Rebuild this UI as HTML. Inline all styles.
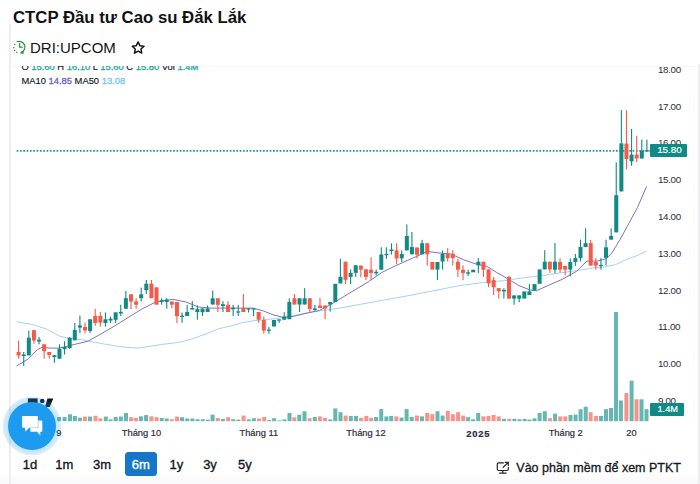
<!DOCTYPE html>
<html lang="vi"><head><meta charset="utf-8"><title>DRI chart</title>
<style>
*{margin:0;padding:0;box-sizing:border-box}
html,body{width:700px;height:484px;overflow:hidden;background:#fff;font-family:"Liberation Sans",Arial,sans-serif;color:#131722}
#lline{position:absolute;left:9px;top:24px;width:1.5px;height:460px;background:#eeedf1}
#rline{position:absolute;left:697.5px;top:64px;width:2.5px;height:420px;background:#efeff3}
#r2line{position:absolute;left:693px;top:66px;width:1px;height:360px;background:#fafafb}
#title{position:absolute;left:13px;top:9.9px;font-size:16.75px;line-height:16.75px;font-weight:bold;white-space:nowrap;color:#111}
#sym{position:absolute;left:30px;top:40.3px;font-size:15px;line-height:15px;white-space:nowrap;color:#131313}
#clock{position:absolute;left:8px;top:36px;width:24px;height:22px}
#star{position:absolute;left:126px;top:38px;width:24px;height:20px}
#chartclip{position:absolute;left:10px;top:66px;width:688px;height:380px;overflow:hidden}
.leg{position:absolute;left:11.4px;font-size:9.4px;line-height:10px;white-space:nowrap;color:#131722;-webkit-text-stroke:0.15px #131722}
.leg span{-webkit-text-stroke:0.35px currentColor}
.pl{position:absolute;left:657.9px;font-size:9.8px;letter-spacing:-0.3px;line-height:12px;color:#2a2e39;white-space:nowrap}
#svg{position:absolute;left:0;top:0}
.tl{position:absolute;top:428.3px;width:80px;text-align:center;font-size:9.3px;line-height:10px;color:#2a2e39;white-space:nowrap;-webkit-text-stroke:0.2px #2a2e39}
.tl.b{font-weight:bold;font-size:9.4px;letter-spacing:0.75px;top:429px}
.badge{position:absolute;background:#108a84;color:#fff;-webkit-text-stroke:0.2px #fff;font-size:10px;line-height:11px;border-radius:1px;text-align:center}
.rb{position:absolute;top:458px;width:40px;text-align:center;font-size:13px;line-height:13px;color:#131722;-webkit-text-stroke:0.35px currentColor}
#b6m{position:absolute;left:125px;top:452.3px;width:31.8px;height:23.8px;border-radius:3.5px;background:#1677c8}
#bottom{position:absolute;left:0;top:475px;width:700px;height:9px;background:linear-gradient(#fdfdfe,#f8f8fa)}
#ptkt{position:absolute;left:516.3px;top:461.5px;font-size:12.5px;line-height:13px;white-space:nowrap;color:#131722;-webkit-text-stroke:0.3px #131722}
#mon{position:absolute;left:494px;top:460px;width:16px;height:15px}
#chat{position:absolute;left:2.5px;top:397px;width:58px;height:58px}
</style></head><body>
<div id="bottom"></div><div id="lline"></div><div id="tline" style="position:absolute;left:10px;top:65.5px;width:688px;height:1px;background:#f6f6f8"></div><div id="rline"></div><div id="r2line"></div>
<div id="title">CTCP Đầu tư Cao su Đắk Lắk</div>
<svg id="clock" viewBox="8 36 24 22"><g fill="none" stroke="#26973d" stroke-width="1.25" stroke-linecap="round"><path d="M17.2 41.7 A5.7 5.7 0 1 1 21.2 52.4"/><path d="M19.6 43.6 V47.1 H22.4"/></g><g fill="#26973d"><circle cx="14.8" cy="44.5" r="0.75"/><circle cx="13.8" cy="47.7" r="0.75"/><circle cx="14.6" cy="50.4" r="0.75"/><circle cx="16.6" cy="52.2" r="0.75"/><path d="M23.8 50.2 L23.5 54.1 L19.7 53.2 Z"/></g></svg>
<div id="sym">DRI:UPCOM</div>
<svg id="star" viewBox="126 38 24 20"><path d="M138.10 41.90 L139.86 45.67 L144.00 46.18 L140.95 49.03 L141.74 53.12 L138.10 51.10 L134.46 53.12 L135.25 49.03 L132.20 46.18 L136.34 45.67 Z" fill="none" stroke="#111" stroke-width="1.45" stroke-linejoin="round"/></svg>

<div id="chartclip">
<div class="leg" style="top:-4.3px">O <span style="color:#2aa99b">15.60</span> H <span style="color:#2aa99b">16.10</span> L <span style="color:#2aa99b">15.60</span> C <span style="color:#2aa99b">15.80</span> Vol <span style="color:#2aa99b">1.4M</span></div>
<div class="leg" style="top:9.7px">MA10 <span style="color:#7466c0">14.85</span> MA50 <span style="color:#7cc6ee">13.08</span></div>
</div>

<svg id="svg" width="700" height="484" viewBox="0 0 700 484">
<rect x="57.1" y="417" width="4" height="4.2" fill="#66b6b2"/>
<rect x="62.6" y="417" width="4" height="4.2" fill="#66b6b2"/>
<rect x="68" y="414.3" width="4" height="6.9" fill="#66b6b2"/>
<rect x="72.9" y="416" width="4" height="5.2" fill="#66b6b2"/>
<rect x="77.9" y="417.7" width="4" height="3.5" fill="#66b6b2"/>
<rect x="82.9" y="416.6" width="4" height="4.6" fill="#f6938d"/>
<rect x="88" y="416.6" width="4" height="4.6" fill="#66b6b2"/>
<rect x="93.5" y="415.8" width="4" height="5.4" fill="#f6938d"/>
<rect x="98.3" y="418.3" width="4" height="2.9" fill="#f6938d"/>
<rect x="103.8" y="416.6" width="4" height="4.6" fill="#66b6b2"/>
<rect x="108.6" y="419.4" width="4" height="1.8" fill="#66b6b2"/>
<rect x="113.7" y="417" width="4" height="4.2" fill="#66b6b2"/>
<rect x="118.9" y="416.5" width="4" height="4.7" fill="#66b6b2"/>
<rect x="124" y="413" width="4" height="8.2" fill="#66b6b2"/>
<rect x="129.1" y="417.2" width="4" height="4" fill="#f6938d"/>
<rect x="134" y="418" width="4" height="3.2" fill="#f6938d"/>
<rect x="138.9" y="416.3" width="4" height="4.9" fill="#66b6b2"/>
<rect x="144.1" y="415.1" width="4" height="6.1" fill="#66b6b2"/>
<rect x="149.4" y="416.3" width="4" height="4.9" fill="#f6938d"/>
<rect x="154.5" y="417.2" width="4" height="4" fill="#f6938d"/>
<rect x="159.7" y="418" width="4" height="3.2" fill="#66b6b2"/>
<rect x="164.7" y="418.5" width="4" height="2.7" fill="#66b6b2"/>
<rect x="169.8" y="419.2" width="4" height="2" fill="#f6938d"/>
<rect x="175.1" y="416.6" width="4" height="4.6" fill="#f6938d"/>
<rect x="180.1" y="417.2" width="4" height="4" fill="#66b6b2"/>
<rect x="185.2" y="418.5" width="4" height="2.7" fill="#66b6b2"/>
<rect x="190.4" y="418.5" width="4" height="2.7" fill="#66b6b2"/>
<rect x="195.5" y="419.2" width="4" height="2" fill="#66b6b2"/>
<rect x="200.7" y="419.2" width="4" height="2" fill="#66b6b2"/>
<rect x="205.8" y="419.7" width="4" height="1.5" fill="#66b6b2"/>
<rect x="210.6" y="414.6" width="4" height="6.6" fill="#66b6b2"/>
<rect x="215.8" y="418" width="4" height="3.2" fill="#f6938d"/>
<rect x="220.9" y="418.9" width="4" height="2.3" fill="#66b6b2"/>
<rect x="226.1" y="417.2" width="4" height="4" fill="#f6938d"/>
<rect x="231.2" y="419.2" width="4" height="2" fill="#66b6b2"/>
<rect x="236.4" y="419.6" width="4" height="1.6" fill="#66b6b2"/>
<rect x="241.6" y="415.6" width="4" height="5.6" fill="#f6938d"/>
<rect x="246.7" y="419.4" width="4" height="1.8" fill="#66b6b2"/>
<rect x="251.9" y="418.2" width="4" height="3" fill="#66b6b2"/>
<rect x="257" y="418.5" width="4" height="2.7" fill="#f6938d"/>
<rect x="262.2" y="417" width="4" height="4.2" fill="#f6938d"/>
<rect x="267.3" y="419.9" width="4" height="1.3" fill="#66b6b2"/>
<rect x="272.1" y="418.2" width="4" height="3" fill="#66b6b2"/>
<rect x="277.3" y="420.4" width="4" height="0.8" fill="#66b6b2"/>
<rect x="282.4" y="419.4" width="4" height="1.8" fill="#66b6b2"/>
<rect x="287.5" y="413" width="4" height="8.2" fill="#66b6b2"/>
<rect x="292.3" y="417.3" width="4" height="3.9" fill="#f6938d"/>
<rect x="297.3" y="414.7" width="4" height="6.5" fill="#66b6b2"/>
<rect x="302.5" y="411.3" width="4" height="9.9" fill="#66b6b2"/>
<rect x="307.6" y="418.2" width="4" height="3" fill="#f6938d"/>
<rect x="312.8" y="417" width="4" height="4.2" fill="#66b6b2"/>
<rect x="317.9" y="416.4" width="4" height="4.8" fill="#f6938d"/>
<rect x="323" y="417.8" width="4" height="3.4" fill="#f6938d"/>
<rect x="328.2" y="419.4" width="4" height="1.8" fill="#66b6b2"/>
<rect x="333.3" y="408.4" width="4" height="12.8" fill="#66b6b2"/>
<rect x="338.5" y="412.2" width="4" height="9" fill="#66b6b2"/>
<rect x="343.6" y="415.6" width="4" height="5.6" fill="#f6938d"/>
<rect x="348.8" y="416" width="4" height="5.2" fill="#66b6b2"/>
<rect x="354" y="415.9" width="4" height="5.3" fill="#66b6b2"/>
<rect x="359.1" y="417.8" width="4" height="3.4" fill="#f6938d"/>
<rect x="364.3" y="415.9" width="4" height="5.3" fill="#f6938d"/>
<rect x="369.1" y="417.8" width="4" height="3.4" fill="#f6938d"/>
<rect x="374.1" y="417" width="4" height="4.2" fill="#66b6b2"/>
<rect x="379.2" y="409.1" width="4" height="12.1" fill="#66b6b2"/>
<rect x="384.4" y="416.4" width="4" height="4.8" fill="#66b6b2"/>
<rect x="389.2" y="415.9" width="4" height="5.3" fill="#66b6b2"/>
<rect x="394.3" y="416.4" width="4" height="4.8" fill="#f6938d"/>
<rect x="399.5" y="417.6" width="4" height="3.6" fill="#66b6b2"/>
<rect x="404.6" y="409.1" width="4" height="12.1" fill="#66b6b2"/>
<rect x="409.7" y="417" width="4" height="4.2" fill="#66b6b2"/>
<rect x="414.9" y="415.6" width="4" height="5.6" fill="#f6938d"/>
<rect x="420" y="416.4" width="4" height="4.8" fill="#66b6b2"/>
<rect x="425.2" y="413" width="4" height="8.2" fill="#f6938d"/>
<rect x="430.3" y="414.2" width="4" height="7" fill="#f6938d"/>
<rect x="435.5" y="411.3" width="4" height="9.9" fill="#66b6b2"/>
<rect x="440.6" y="415.6" width="4" height="5.6" fill="#66b6b2"/>
<rect x="445.8" y="410.8" width="4" height="10.4" fill="#f6938d"/>
<rect x="450.9" y="414.2" width="4" height="7" fill="#f6938d"/>
<rect x="456.1" y="412.2" width="4" height="9" fill="#f6938d"/>
<rect x="461.2" y="415.6" width="4" height="5.6" fill="#f6938d"/>
<rect x="466.1" y="417.2" width="4" height="4" fill="#66b6b2"/>
<rect x="471.1" y="419.3" width="4" height="1.9" fill="#66b6b2"/>
<rect x="476.2" y="413" width="4" height="8.2" fill="#66b6b2"/>
<rect x="481.4" y="416.4" width="4" height="4.8" fill="#f6938d"/>
<rect x="486.5" y="415.9" width="4" height="5.3" fill="#f6938d"/>
<rect x="491.6" y="415" width="4" height="6.2" fill="#f6938d"/>
<rect x="496.8" y="416.4" width="4" height="4.8" fill="#f6938d"/>
<rect x="502.1" y="418.8" width="4" height="2.4" fill="#66b6b2"/>
<rect x="507.3" y="418.8" width="4" height="2.4" fill="#f6938d"/>
<rect x="512.4" y="418.8" width="4" height="2.4" fill="#66b6b2"/>
<rect x="517.5" y="419.3" width="4" height="1.9" fill="#66b6b2"/>
<rect x="522.7" y="419" width="4" height="2.2" fill="#66b6b2"/>
<rect x="527.5" y="419.6" width="4" height="1.6" fill="#66b6b2"/>
<rect x="532.5" y="418.4" width="4" height="2.8" fill="#66b6b2"/>
<rect x="537.6" y="413" width="4" height="8.2" fill="#66b6b2"/>
<rect x="542.8" y="411.2" width="4" height="10" fill="#66b6b2"/>
<rect x="547.9" y="418.1" width="4" height="3.1" fill="#f6938d"/>
<rect x="553.1" y="413.6" width="4" height="7.6" fill="#66b6b2"/>
<rect x="558.2" y="416.4" width="4" height="4.8" fill="#f6938d"/>
<rect x="563.3" y="416.4" width="4" height="4.8" fill="#f6938d"/>
<rect x="568.5" y="415" width="4" height="6.2" fill="#66b6b2"/>
<rect x="573.6" y="414.6" width="4" height="6.6" fill="#66b6b2"/>
<rect x="578.6" y="409.3" width="4" height="11.9" fill="#66b6b2"/>
<rect x="583.7" y="406.7" width="4" height="14.5" fill="#66b6b2"/>
<rect x="588.6" y="412.2" width="4" height="9" fill="#f6938d"/>
<rect x="594.1" y="415.9" width="4" height="5.3" fill="#f6938d"/>
<rect x="599" y="415.9" width="4" height="5.3" fill="#66b6b2"/>
<rect x="604" y="409.2" width="4" height="12" fill="#66b6b2"/>
<rect x="609" y="408" width="4" height="13.2" fill="#66b6b2"/>
<rect x="614" y="312" width="4" height="109.2" fill="#66b6b2"/>
<rect x="618.9" y="400.5" width="4" height="20.7" fill="#66b6b2"/>
<rect x="624.4" y="393.1" width="4" height="28.1" fill="#f6938d"/>
<rect x="629.6" y="380.7" width="4" height="40.5" fill="#66b6b2"/>
<rect x="634.5" y="399.3" width="4" height="21.9" fill="#f6938d"/>
<rect x="639.5" y="399.3" width="4" height="21.9" fill="#66b6b2"/>
<rect x="644.5" y="409.2" width="4" height="12" fill="#66b6b2"/>
<line x1="16.6" y1="150.9" x2="650" y2="150.8" stroke="#1f998c" stroke-width="1.7" stroke-dasharray="1.7 1.63"/>
<polyline fill="none" stroke="#a2d4f2" stroke-width="1" points="16.6,321.8 32.9,324.6 46.6,329.1 59.1,336 69.4,338.3 83.1,339.9 101.4,343.5 119.7,346.7 138,348.1 150,346.3 161.4,344.5 178.6,342.4 190,339.6 207.1,333.5 218.6,328.7 230,326.2 241.4,322.9 252.9,320.8 264.3,319.7 275.7,318.6 287.1,317.1 298.6,314.6 310,312.3 322,310.5 340,308.1 355.7,305.2 381.4,300.5 407.1,295.9 432.8,290.9 458.5,285.8 484.2,282.3 507.4,280.4 518.9,278.4 547.8,274.7 576.7,270.6 592.9,268 604.3,266.9 615.7,264.6 627.1,259.4 638.6,254.9 646.6,251.1"/>
<polyline fill="none" stroke="#7f71c4" stroke-width="1" points="16.6,366 28.3,358.9 37.4,349.7 42,347.4 50,348.1 59.1,348.1 67.1,346.3 74,344.5 87.7,341.3 101.4,333.7 115.1,325.7 128.9,317 142.6,308.6 154,302.9 160.9,301 172.9,299.4 185.7,301.9 198.6,307.1 211.4,308.1 237.1,308.1 252.5,308.1 262.8,310.7 273.1,314.8 283.4,317.4 293.7,316.3 304,313.8 319.4,310.4 330,305 342.9,297.1 355.7,289.4 368.6,281.7 381.4,272.7 394.3,266.3 407.1,260.6 417.4,256 427.7,251.4 438,252.9 450.8,253.9 463.7,259.8 476.5,264.2 486.8,266.3 497.1,272.7 507.4,278.6 518.9,285.6 530,290 536.3,290.8 547.8,285.6 562.3,279.3 576.7,271.2 586.8,261.1 597,261.1 605.6,259 611.4,253.8 620.1,239.4 628.8,223.5 637.4,207.6 646.6,186.5"/>
<rect x="18.05" y="340.5" width="1.1" height="18.2" fill="#f45a47"/>
<rect x="16.6" y="352" width="4" height="3.4" fill="#f45a47"/>
<rect x="23.16" y="352" width="1.1" height="14" fill="#0f8a85"/>
<rect x="21.71" y="354.5" width="4" height="1.5" fill="#0f8a85"/>
<rect x="28.27" y="330.6" width="1.1" height="24.8" fill="#0f8a85"/>
<rect x="26.82" y="337.7" width="4" height="17.7" fill="#0f8a85"/>
<rect x="33.37" y="330.2" width="1.1" height="13.6" fill="#f45a47"/>
<rect x="31.92" y="330.2" width="4" height="10.3" fill="#f45a47"/>
<rect x="38.48" y="337" width="1.1" height="7.3" fill="#0f8a85"/>
<rect x="37.03" y="339.7" width="4" height="1.8" fill="#0f8a85"/>
<rect x="43.59" y="344.3" width="1.1" height="14.4" fill="#f45a47"/>
<rect x="42.14" y="344.3" width="4" height="6.9" fill="#f45a47"/>
<rect x="48.7" y="352" width="1.1" height="6.7" fill="#f45a47"/>
<rect x="47.25" y="352" width="4" height="3" fill="#f45a47"/>
<rect x="53.81" y="355.2" width="1.1" height="7.6" fill="#0f8a85"/>
<rect x="52.36" y="355.2" width="4" height="1.8" fill="#0f8a85"/>
<rect x="58.92" y="344.3" width="1.1" height="14.4" fill="#0f8a85"/>
<rect x="57.47" y="348.8" width="4" height="9.9" fill="#0f8a85"/>
<rect x="64.02" y="341.3" width="1.1" height="13.2" fill="#0f8a85"/>
<rect x="62.57" y="347" width="4" height="2" fill="#0f8a85"/>
<rect x="69.13" y="337" width="1.1" height="12" fill="#0f8a85"/>
<rect x="67.68" y="337.8" width="4" height="10.2" fill="#0f8a85"/>
<rect x="74.24" y="323" width="1.1" height="17.3" fill="#0f8a85"/>
<rect x="72.79" y="329.9" width="4" height="10.4" fill="#0f8a85"/>
<rect x="79.35" y="315.5" width="1.1" height="17.7" fill="#0f8a85"/>
<rect x="77.9" y="325.4" width="4" height="2.2" fill="#0f8a85"/>
<rect x="84.46" y="322.6" width="1.1" height="10.6" fill="#f45a47"/>
<rect x="83.01" y="327" width="4" height="3.4" fill="#f45a47"/>
<rect x="89.56" y="319.3" width="1.1" height="13.9" fill="#0f8a85"/>
<rect x="88.11" y="319.3" width="4" height="11.7" fill="#0f8a85"/>
<rect x="94.67" y="308.7" width="1.1" height="17.1" fill="#f45a47"/>
<rect x="93.22" y="316" width="4" height="7" fill="#f45a47"/>
<rect x="99.78" y="311.8" width="1.1" height="14.9" fill="#f45a47"/>
<rect x="98.33" y="316" width="4" height="6.6" fill="#f45a47"/>
<rect x="104.89" y="312.4" width="1.1" height="14.3" fill="#0f8a85"/>
<rect x="103.44" y="319.3" width="4" height="3.7" fill="#0f8a85"/>
<rect x="110" y="316.5" width="1.1" height="6.5" fill="#0f8a85"/>
<rect x="108.55" y="318.7" width="4" height="1.8" fill="#0f8a85"/>
<rect x="115.1" y="312.4" width="1.1" height="10.6" fill="#0f8a85"/>
<rect x="113.65" y="312.4" width="4" height="7.4" fill="#0f8a85"/>
<rect x="120.21" y="304.7" width="1.1" height="11.3" fill="#0f8a85"/>
<rect x="118.76" y="311.9" width="4" height="1.6" fill="#0f8a85"/>
<rect x="125.32" y="291" width="1.1" height="17.7" fill="#0f8a85"/>
<rect x="123.87" y="298.2" width="4" height="10.5" fill="#0f8a85"/>
<rect x="130.43" y="294.3" width="1.1" height="14.7" fill="#f45a47"/>
<rect x="128.98" y="294.3" width="4" height="7.2" fill="#f45a47"/>
<rect x="135.54" y="298.2" width="1.1" height="10.5" fill="#f45a47"/>
<rect x="134.09" y="301.5" width="4" height="3.2" fill="#f45a47"/>
<rect x="140.65" y="287.6" width="1.1" height="13.9" fill="#0f8a85"/>
<rect x="139.2" y="294.3" width="4" height="3.9" fill="#0f8a85"/>
<rect x="145.75" y="280" width="1.1" height="13.8" fill="#0f8a85"/>
<rect x="144.3" y="283.7" width="4" height="6.5" fill="#0f8a85"/>
<rect x="150.86" y="280" width="1.1" height="18.2" fill="#f45a47"/>
<rect x="149.41" y="283.7" width="4" height="14.5" fill="#f45a47"/>
<rect x="154.52" y="287.3" width="4" height="17.4" fill="#f45a47"/>
<rect x="161.08" y="298.2" width="1.1" height="6.5" fill="#0f8a85"/>
<rect x="159.63" y="300.3" width="4" height="1.7" fill="#0f8a85"/>
<rect x="166.19" y="298.2" width="1.1" height="10.5" fill="#0f8a85"/>
<rect x="164.74" y="299.6" width="4" height="2.4" fill="#0f8a85"/>
<rect x="171.29" y="301.5" width="1.1" height="6.8" fill="#f45a47"/>
<rect x="169.84" y="301.5" width="4" height="3.2" fill="#f45a47"/>
<rect x="176.4" y="302" width="1.1" height="21.1" fill="#f45a47"/>
<rect x="174.95" y="302" width="4" height="14.2" fill="#f45a47"/>
<rect x="181.51" y="312.5" width="1.1" height="10.3" fill="#0f8a85"/>
<rect x="180.06" y="315.7" width="4" height="1.3" fill="#0f8a85"/>
<rect x="186.62" y="304.8" width="1.1" height="11.2" fill="#0f8a85"/>
<rect x="185.17" y="312" width="4" height="4" fill="#0f8a85"/>
<rect x="191.73" y="301" width="1.1" height="8.5" fill="#0f8a85"/>
<rect x="190.28" y="307.9" width="4" height="1.6" fill="#0f8a85"/>
<rect x="196.83" y="305.4" width="1.1" height="14.3" fill="#0f8a85"/>
<rect x="195.38" y="309.1" width="4" height="2.9" fill="#0f8a85"/>
<rect x="201.94" y="308.5" width="1.1" height="7.5" fill="#0f8a85"/>
<rect x="200.49" y="308.5" width="4" height="3.7" fill="#0f8a85"/>
<rect x="207.05" y="305.4" width="1.1" height="6.6" fill="#0f8a85"/>
<rect x="205.6" y="308.5" width="4" height="3.5" fill="#0f8a85"/>
<rect x="212.16" y="290.5" width="1.1" height="14" fill="#0f8a85"/>
<rect x="210.71" y="298.3" width="4" height="6.2" fill="#0f8a85"/>
<rect x="217.27" y="298.3" width="1.1" height="13.7" fill="#f45a47"/>
<rect x="215.82" y="298.3" width="4" height="6.5" fill="#f45a47"/>
<rect x="222.38" y="301.3" width="1.1" height="10.7" fill="#0f8a85"/>
<rect x="220.93" y="304.2" width="4" height="1.8" fill="#0f8a85"/>
<rect x="227.48" y="301.1" width="1.1" height="10.9" fill="#f45a47"/>
<rect x="226.03" y="304.8" width="4" height="7.2" fill="#f45a47"/>
<rect x="232.59" y="304.8" width="1.1" height="11.2" fill="#0f8a85"/>
<rect x="231.14" y="307.7" width="4" height="1.5" fill="#0f8a85"/>
<rect x="237.7" y="304.8" width="1.1" height="11.2" fill="#0f8a85"/>
<rect x="236.25" y="311.4" width="4" height="1.2" fill="#0f8a85"/>
<rect x="242.81" y="293.9" width="1.1" height="18.1" fill="#f45a47"/>
<rect x="241.36" y="307.9" width="4" height="4.1" fill="#f45a47"/>
<rect x="247.92" y="308.3" width="1.1" height="4.2" fill="#0f8a85"/>
<rect x="246.47" y="308.3" width="4" height="1.2" fill="#0f8a85"/>
<rect x="253.02" y="308.3" width="1.1" height="7.7" fill="#0f8a85"/>
<rect x="251.57" y="308.3" width="4" height="1.2" fill="#0f8a85"/>
<rect x="258.13" y="312" width="1.1" height="10.8" fill="#f45a47"/>
<rect x="256.68" y="312" width="4" height="7.7" fill="#f45a47"/>
<rect x="263.24" y="316.6" width="1.1" height="17" fill="#f45a47"/>
<rect x="261.79" y="320" width="4" height="10.6" fill="#f45a47"/>
<rect x="268.35" y="327.1" width="1.1" height="6.5" fill="#0f8a85"/>
<rect x="266.9" y="329.6" width="4" height="1.2" fill="#0f8a85"/>
<rect x="272.01" y="320" width="4" height="6.5" fill="#0f8a85"/>
<rect x="278.56" y="319.4" width="1.1" height="3.4" fill="#0f8a85"/>
<rect x="277.11" y="319.4" width="4" height="1.2" fill="#0f8a85"/>
<rect x="283.67" y="312.3" width="1.1" height="7.4" fill="#0f8a85"/>
<rect x="282.22" y="316.6" width="4" height="3.1" fill="#0f8a85"/>
<rect x="288.78" y="298.3" width="1.1" height="20.9" fill="#0f8a85"/>
<rect x="287.33" y="301.9" width="4" height="17.3" fill="#0f8a85"/>
<rect x="293.89" y="294" width="1.1" height="10.5" fill="#f45a47"/>
<rect x="292.44" y="298.3" width="4" height="6.2" fill="#f45a47"/>
<rect x="299" y="298.3" width="1.1" height="13.7" fill="#0f8a85"/>
<rect x="297.55" y="298.3" width="4" height="6.2" fill="#0f8a85"/>
<rect x="304.11" y="288.2" width="1.1" height="16.3" fill="#0f8a85"/>
<rect x="302.66" y="298.3" width="4" height="6.2" fill="#0f8a85"/>
<rect x="309.21" y="298.3" width="1.1" height="13.4" fill="#f45a47"/>
<rect x="307.76" y="298.3" width="4" height="10.8" fill="#f45a47"/>
<rect x="314.32" y="305" width="1.1" height="5.9" fill="#0f8a85"/>
<rect x="312.87" y="308.4" width="4" height="1.5" fill="#0f8a85"/>
<rect x="319.43" y="297.9" width="1.1" height="10.1" fill="#f45a47"/>
<rect x="317.98" y="305.5" width="4" height="2.5" fill="#f45a47"/>
<rect x="324.54" y="305.5" width="1.1" height="13.7" fill="#f45a47"/>
<rect x="323.09" y="305.5" width="4" height="2.9" fill="#f45a47"/>
<rect x="329.65" y="301.9" width="1.1" height="9.8" fill="#0f8a85"/>
<rect x="328.2" y="301.9" width="4" height="2.6" fill="#0f8a85"/>
<rect x="333.3" y="283.8" width="4" height="18.1" fill="#0f8a85"/>
<rect x="339.86" y="258.8" width="1.1" height="24.6" fill="#0f8a85"/>
<rect x="338.41" y="276.9" width="4" height="6.5" fill="#0f8a85"/>
<rect x="344.97" y="261.7" width="1.1" height="22.4" fill="#f45a47"/>
<rect x="343.52" y="261.7" width="4" height="18.1" fill="#f45a47"/>
<rect x="350.08" y="269.4" width="1.1" height="14.7" fill="#0f8a85"/>
<rect x="348.63" y="272.9" width="4" height="4" fill="#0f8a85"/>
<rect x="355.19" y="265.3" width="1.1" height="11.6" fill="#0f8a85"/>
<rect x="353.74" y="265.3" width="4" height="7.6" fill="#0f8a85"/>
<rect x="360.29" y="265.6" width="1.1" height="11.6" fill="#f45a47"/>
<rect x="358.84" y="265.6" width="4" height="4.1" fill="#f45a47"/>
<rect x="365.4" y="269.4" width="1.1" height="10.7" fill="#f45a47"/>
<rect x="363.95" y="269.4" width="4" height="7.5" fill="#f45a47"/>
<rect x="370.51" y="257.4" width="1.1" height="22.4" fill="#f45a47"/>
<rect x="369.06" y="269.7" width="4" height="3.2" fill="#f45a47"/>
<rect x="375.62" y="269.4" width="1.1" height="6.1" fill="#0f8a85"/>
<rect x="374.17" y="271.8" width="4" height="1.5" fill="#0f8a85"/>
<rect x="380.73" y="247.3" width="1.1" height="22.4" fill="#0f8a85"/>
<rect x="379.28" y="254.5" width="4" height="15.2" fill="#0f8a85"/>
<rect x="385.84" y="247.3" width="1.1" height="11.5" fill="#0f8a85"/>
<rect x="384.39" y="253.8" width="4" height="1.4" fill="#0f8a85"/>
<rect x="390.94" y="243.3" width="1.1" height="11.3" fill="#0f8a85"/>
<rect x="389.49" y="249.5" width="4" height="1.5" fill="#0f8a85"/>
<rect x="396.05" y="243.2" width="1.1" height="20.9" fill="#f45a47"/>
<rect x="394.6" y="250.4" width="4" height="8" fill="#f45a47"/>
<rect x="401.16" y="250.4" width="1.1" height="11.6" fill="#0f8a85"/>
<rect x="399.71" y="254" width="4" height="4.4" fill="#0f8a85"/>
<rect x="406.27" y="224.4" width="1.1" height="26" fill="#0f8a85"/>
<rect x="404.82" y="236" width="4" height="14.4" fill="#0f8a85"/>
<rect x="411.38" y="232" width="1.1" height="22.3" fill="#0f8a85"/>
<rect x="409.93" y="247.1" width="4" height="7.2" fill="#0f8a85"/>
<rect x="416.48" y="247.5" width="1.1" height="10.9" fill="#f45a47"/>
<rect x="415.03" y="247.5" width="4" height="7.2" fill="#f45a47"/>
<rect x="421.59" y="239.9" width="1.1" height="14.4" fill="#0f8a85"/>
<rect x="420.14" y="243.2" width="4" height="11.1" fill="#0f8a85"/>
<rect x="426.7" y="243.2" width="1.1" height="22.4" fill="#f45a47"/>
<rect x="425.25" y="243.2" width="4" height="11.1" fill="#f45a47"/>
<rect x="430.36" y="262" width="4" height="7.6" fill="#f45a47"/>
<rect x="436.92" y="262" width="1.1" height="18" fill="#0f8a85"/>
<rect x="435.47" y="262" width="4" height="7.6" fill="#0f8a85"/>
<rect x="442.02" y="250.4" width="1.1" height="19.2" fill="#0f8a85"/>
<rect x="440.57" y="254" width="4" height="7.5" fill="#0f8a85"/>
<rect x="447.13" y="248.1" width="1.1" height="13.5" fill="#f45a47"/>
<rect x="445.68" y="254" width="4" height="4.2" fill="#f45a47"/>
<rect x="452.24" y="250.2" width="1.1" height="15.1" fill="#f45a47"/>
<rect x="450.79" y="253.8" width="4" height="4.3" fill="#f45a47"/>
<rect x="457.35" y="258.8" width="1.1" height="18.1" fill="#f45a47"/>
<rect x="455.9" y="261.7" width="4" height="8" fill="#f45a47"/>
<rect x="462.46" y="265.3" width="1.1" height="14.8" fill="#f45a47"/>
<rect x="461.01" y="269.7" width="4" height="3.2" fill="#f45a47"/>
<rect x="467.57" y="269.7" width="1.1" height="6.5" fill="#0f8a85"/>
<rect x="466.12" y="272.3" width="4" height="1.4" fill="#0f8a85"/>
<rect x="471.22" y="269.7" width="4" height="2.6" fill="#0f8a85"/>
<rect x="477.78" y="258.1" width="1.1" height="14.8" fill="#0f8a85"/>
<rect x="476.33" y="261.7" width="4" height="3.6" fill="#0f8a85"/>
<rect x="482.89" y="261.7" width="1.1" height="15.2" fill="#f45a47"/>
<rect x="481.44" y="261.7" width="4" height="8" fill="#f45a47"/>
<rect x="488" y="269.4" width="1.1" height="17.9" fill="#f45a47"/>
<rect x="486.55" y="269.4" width="4" height="14" fill="#f45a47"/>
<rect x="493.11" y="276.9" width="1.1" height="18.1" fill="#f45a47"/>
<rect x="491.66" y="280.1" width="4" height="7.2" fill="#f45a47"/>
<rect x="498.21" y="288.2" width="1.1" height="10.4" fill="#f45a47"/>
<rect x="496.76" y="288.2" width="4" height="3.2" fill="#f45a47"/>
<rect x="503.32" y="288.2" width="1.1" height="10.4" fill="#0f8a85"/>
<rect x="501.87" y="289.9" width="4" height="1.5" fill="#0f8a85"/>
<rect x="508.43" y="276.2" width="1.1" height="22.4" fill="#f45a47"/>
<rect x="506.98" y="276.9" width="4" height="21.7" fill="#f45a47"/>
<rect x="513.54" y="295.4" width="1.1" height="9.3" fill="#0f8a85"/>
<rect x="512.09" y="295.4" width="4" height="3.2" fill="#0f8a85"/>
<rect x="518.65" y="295.4" width="1.1" height="6.8" fill="#0f8a85"/>
<rect x="517.2" y="295.4" width="4" height="3.2" fill="#0f8a85"/>
<rect x="522.3" y="291.4" width="4" height="7.2" fill="#0f8a85"/>
<rect x="528.86" y="284.1" width="1.1" height="10.9" fill="#0f8a85"/>
<rect x="527.41" y="291.4" width="4" height="3.6" fill="#0f8a85"/>
<rect x="532.52" y="284.1" width="4" height="6.5" fill="#0f8a85"/>
<rect x="537.63" y="269.4" width="4" height="14.4" fill="#0f8a85"/>
<rect x="544.19" y="250.2" width="1.1" height="19.2" fill="#0f8a85"/>
<rect x="542.74" y="261.7" width="4" height="7.7" fill="#0f8a85"/>
<rect x="549.3" y="261.7" width="1.1" height="11.2" fill="#f45a47"/>
<rect x="547.85" y="261.7" width="4" height="7.7" fill="#f45a47"/>
<rect x="554.4" y="243" width="1.1" height="30.3" fill="#0f8a85"/>
<rect x="552.95" y="261.7" width="4" height="8" fill="#0f8a85"/>
<rect x="559.51" y="258.4" width="1.1" height="14.1" fill="#f45a47"/>
<rect x="558.06" y="262" width="4" height="7.6" fill="#f45a47"/>
<rect x="564.62" y="265.9" width="1.1" height="9.5" fill="#f45a47"/>
<rect x="563.17" y="265.9" width="4" height="3.7" fill="#f45a47"/>
<rect x="569.73" y="258.4" width="1.1" height="18" fill="#0f8a85"/>
<rect x="568.28" y="262" width="4" height="7.6" fill="#0f8a85"/>
<rect x="574.84" y="254" width="1.1" height="11.9" fill="#0f8a85"/>
<rect x="573.39" y="258.1" width="4" height="3.9" fill="#0f8a85"/>
<rect x="579.94" y="239.6" width="1.1" height="21.9" fill="#0f8a85"/>
<rect x="578.49" y="247.1" width="4" height="11" fill="#0f8a85"/>
<rect x="585.05" y="228.3" width="1.1" height="18.8" fill="#0f8a85"/>
<rect x="583.6" y="243.2" width="4" height="3.9" fill="#0f8a85"/>
<rect x="590.16" y="239.9" width="1.1" height="25.7" fill="#f45a47"/>
<rect x="588.71" y="243.2" width="4" height="22.4" fill="#f45a47"/>
<rect x="595.27" y="258.1" width="1.1" height="11.5" fill="#f45a47"/>
<rect x="593.82" y="262" width="4" height="3.6" fill="#f45a47"/>
<rect x="600.38" y="258.1" width="1.1" height="11.5" fill="#0f8a85"/>
<rect x="598.93" y="264.9" width="4" height="1.2" fill="#0f8a85"/>
<rect x="605.48" y="239.7" width="1.1" height="25.9" fill="#0f8a85"/>
<rect x="604.03" y="247.3" width="4" height="10.6" fill="#0f8a85"/>
<rect x="610.59" y="228.3" width="1.1" height="11.3" fill="#0f8a85"/>
<rect x="609.14" y="236" width="4" height="3.6" fill="#0f8a85"/>
<rect x="615.7" y="162.3" width="1.1" height="70" fill="#0f8a85"/>
<rect x="614.25" y="195.2" width="4" height="37.1" fill="#0f8a85"/>
<rect x="620.81" y="110.1" width="1.1" height="81.3" fill="#0f8a85"/>
<rect x="619.36" y="143.4" width="4" height="48" fill="#0f8a85"/>
<rect x="625.92" y="110.1" width="1.1" height="59.3" fill="#f45a47"/>
<rect x="624.47" y="143.6" width="4" height="15.4" fill="#f45a47"/>
<rect x="631.03" y="128.9" width="1.1" height="36.9" fill="#0f8a85"/>
<rect x="629.58" y="154.6" width="4" height="6.8" fill="#0f8a85"/>
<rect x="636.13" y="135.8" width="1.1" height="26.3" fill="#f45a47"/>
<rect x="634.68" y="154.6" width="4" height="3.9" fill="#f45a47"/>
<rect x="641.24" y="139.7" width="1.1" height="18.8" fill="#0f8a85"/>
<rect x="639.79" y="150.9" width="4" height="7.6" fill="#0f8a85"/>
<rect x="646.35" y="139.7" width="1.1" height="11.6" fill="#0f8a85"/>
<rect x="644.9" y="150.3" width="4" height="1.2" fill="#0f8a85"/>
</svg>

<div id="plabels" style="position:absolute;left:10px;top:67px;width:688px;height:359px;overflow:hidden">
<div style="position:absolute;left:-10px;top:-67px;width:700px;height:484px">
<div class="pl" style="top:63.6px">18.00</div>
<div class="pl" style="top:100.6px">17.00</div>
<div class="pl" style="top:137.3px">16.00</div>
<div class="pl" style="top:174.1px">15.00</div>
<div class="pl" style="top:210.6px">14.00</div>
<div class="pl" style="top:247.9px">13.00</div>
<div class="pl" style="top:284.5px">12.00</div>
<div class="pl" style="top:321.4px">11.00</div>
<div class="pl" style="top:357.9px">10.00</div>
<div class="pl" style="top:394.5px">9.00</div>
</div></div>

<div class="badge" style="left:650.1px;top:144.3px;width:36.7px;height:12.5px;line-height:12.5px;font-size:9.8px;padding-left:2px">15.80</div>
<div class="badge" style="left:650.1px;top:402.9px;width:33.8px;height:12.8px;line-height:12.8px;font-size:9.2px;padding-left:1.4px">1.4M</div>

<div class="tl" style="left:18.9px">9</div>
<div class="tl" style="left:101.5px">Tháng 10</div>
<div class="tl" style="left:218.8px">Tháng 11</div>
<div class="tl" style="left:326px">Tháng 12</div>
<div class="tl b" style="left:438.3px">2025</div>
<div class="tl" style="left:525.7px">Tháng 2</div>
<div class="tl" style="left:591.4px">20</div>

<div id="b6m"></div>
<div class="rb" style="left:10px">1d</div>
<div class="rb" style="left:44.3px">1m</div>
<div class="rb" style="left:82px">3m</div>
<div class="rb" style="left:120.8px;color:#fff">6m</div>
<div class="rb" style="left:156.4px">1y</div>
<div class="rb" style="left:190px">3y</div>
<div class="rb" style="left:224.9px">5y</div>

<svg id="mon" viewBox="494 460 16 15"><g fill="none" stroke="#252525" stroke-width="1.2" stroke-linecap="round" stroke-linejoin="round"><path d="M503.4 462.9 H498.5 Q497.3 462.9 497.3 464.1 V469.3 Q497.3 470.5 498.5 470.5 H507.1 Q508.3 470.5 508.3 469.3 V467.4"/><path d="M503.2 467.3 L508.3 462.4 M505.2 462.4 H508.3 V465.5"/><path d="M502.8 470.6 V472.7 M499.5 473.1 H506.1"/></g></svg>
<div id="ptkt">Vào phần mềm để xem PTKT</div>

<svg id="chat" viewBox="0 0 58 58"><defs><radialGradient id="hg" cx="29" cy="29" r="29.5" gradientUnits="userSpaceOnUse"><stop offset="0.8" stop-color="#1d9bf0" stop-opacity="0.26"/><stop offset="0.95" stop-color="#1d9bf0" stop-opacity="0.2"/><stop offset="1" stop-color="#1d9bf0" stop-opacity="0.1"/></radialGradient></defs>
<path d="M24.9 1.4 H34.6 V8 H24.9 Z" fill="#131722"/><circle cx="39.2" cy="4" r="2.3" fill="#131722"/><path d="M44.4 1.4 H50.4 L46.6 10 H42.1 Z" fill="#131722"/>
<circle cx="29" cy="29" r="29.5" fill="url(#hg)"/><circle cx="29" cy="29" r="24" fill="#1d9bf0"/>
<path d="M27.4 23.6 H38.6 Q39.3 23.6 39.3 24.3 V34.1 Q39.3 34.8 38.6 34.8 H37.3 V38.5 L34 34.8 H27.4 Z" fill="#fff"/>
<path d="M19.9 19 H34 Q34.6 19 34.6 19.6 V29.8 Q34.6 30.4 34 30.4 H26.5 L22 34.5 V30.4 H19.9 Q19.3 30.4 19.3 29.8 V19.6 Q19.3 19 19.9 19 Z" fill="#fff" stroke="#1d9bf0" stroke-width="1.3" paint-order="stroke"/>
<path d="M19.9 19 H34 Q34.6 19 34.6 19.6 V29.8 Q34.6 30.4 34 30.4 H26.5 L22 34.5 V30.4 H19.9 Q19.3 30.4 19.3 29.8 V19.6 Q19.3 19 19.9 19 Z" fill="#fff"/>
</svg>
</body></html>
